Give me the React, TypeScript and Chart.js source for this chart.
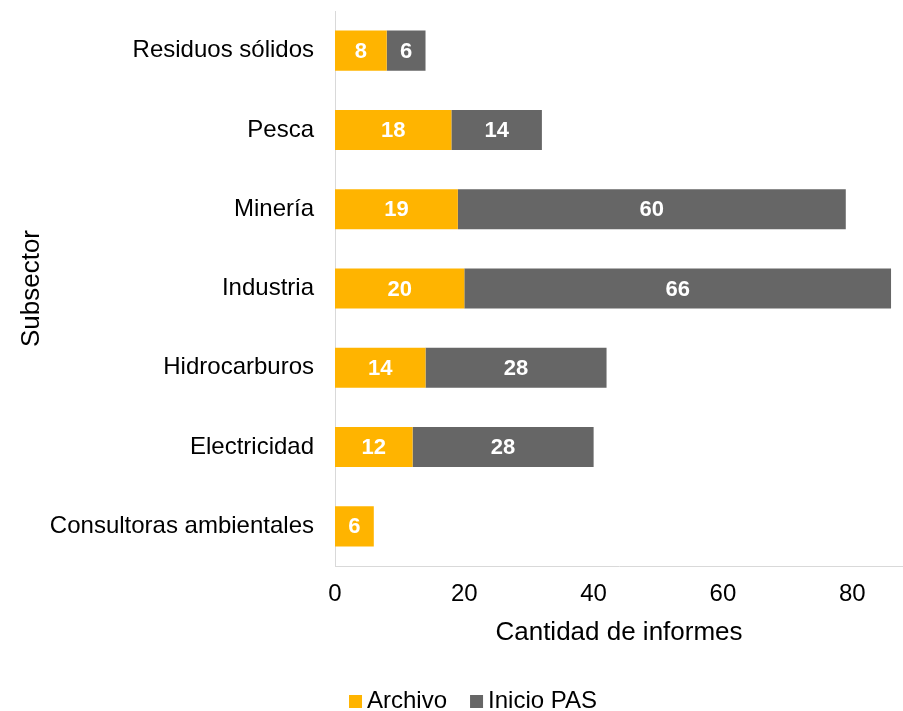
import React, { useEffect, useRef } from "react";
import { Chart, registerables } from "chart.js";

Chart.register(...registerables);

const categories = [
  "Residuos sólidos",
  "Pesca",
  "Minería",
  "Industria",
  "Hidrocarburos",
  "Electricidad",
  "Consultoras ambientales",
];
const archivo = [8, 18, 19, 20, 14, 12, 6];
const inicioPAS: (number | null)[] = [6, 14, 60, 66, 28, 28, null];
const xTickValues = [0, 20, 40, 60, 80];
const seriesNames = ["Archivo", "Inicio PAS"];
const seriesColors = ["#FFB400", "#666666"];
const xAxisTitle = "Cantidad de informes";
const yAxisTitle = "Subsector";

const FONT = '"Liberation Sans", Arial, sans-serif';

const valueLabels = {
  id: "valueLabels",
  afterDatasetsDraw(chart: any) {
    const ctx = chart.ctx;
    ctx.save();
    ctx.font = `bold 22px ${FONT}`;
    ctx.fillStyle = "#ffffff";
    ctx.textAlign = "center";
    ctx.textBaseline = "middle";
    chart.data.datasets.forEach((ds: any, i: number) => {
      const meta = chart.getDatasetMeta(i);
      meta.data.forEach((bar: any, j: number) => {
        const v = ds.data[j];
        if (v == null || v === 0) return;
        const p = bar.getProps(["x", "y", "base"], true);
        ctx.fillText(String(v), (p.x + p.base) / 2, p.y + 1);
      });
    });
    ctx.restore();
  },
};

const customLegend = {
  id: "customLegend",
  afterDraw(chart: any, _args: any, opts: any) {
    const ctx = chart.ctx;
    ctx.save();
    ctx.font = `24px ${FONT}`;
    const box = 13;
    const gap = 5;
    const itemGap = 23;
    const items = chart.data.datasets.map((ds: any) => ({
      text: ds.label,
      color: ds.backgroundColor,
    }));
    const widths = items.map(
      (it: any) => box + gap + ctx.measureText(it.text).width
    );
    const total =
      widths.reduce((a: number, b: number) => a + b, 0) +
      itemGap * (items.length - 1);
    let x = opts.centerX - total / 2;
    const cy = opts.centerY;
    items.forEach((it: any, i: number) => {
      ctx.fillStyle = it.color;
      ctx.fillRect(x, cy - box / 2, box, box);
      ctx.fillStyle = "#000000";
      ctx.textBaseline = "middle";
      ctx.textAlign = "left";
      ctx.fillText(it.text, x + box + gap, cy);
      x += widths[i] + itemGap;
    });
    ctx.restore();
  },
};

export default function App() {
  const canvasRef = useRef<HTMLCanvasElement | null>(null);

  useEffect(() => {
    if (!canvasRef.current) return;
    Chart.defaults.font.family = FONT;
    const chart = new Chart(canvasRef.current, {
      type: "bar",
      data: {
        labels: categories,
        datasets: [
          {
            label: seriesNames[0],
            data: archivo,
            backgroundColor: seriesColors[0],
            barPercentage: 0.505,
            categoryPercentage: 1,
          },
          {
            label: seriesNames[1],
            data: inicioPAS,
            backgroundColor: seriesColors[1],
            barPercentage: 0.505,
            categoryPercentage: 1,
          },
        ],
      },
      options: {
        indexAxis: "y",
        responsive: false,
        animation: false,
        layout: { padding: { left: 0, right: 0, top: 11, bottom: 45 } },
        plugins: {
          legend: { display: false },
          tooltip: { enabled: false },
          customLegend: { centerX: 473, centerY: 701.5 },
        } as any,
        scales: {
          x: {
            stacked: true,
            min: 0,
            max: 87.85,
            afterBuildTicks: (s: any) => {
              s.ticks = xTickValues.map((v) => ({ value: v }));
            },
            afterFit: (s: any) => {
              s.height = 100;
              s.paddingLeft = 0;
              s.paddingRight = 0;
            },
            grid: { display: false, drawTicks: false },
            border: { display: true, color: "#D9D9D9", width: 1 },
            ticks: {
              font: { size: 24, family: FONT },
              color: "#000000",
              padding: 14,
              maxRotation: 0,
            },
            title: {
              display: true,
              text: xAxisTitle,
              font: { size: 26, family: FONT },
              color: "#000000",
              padding: { top: 0, bottom: 18 },
            },
          },
          y: {
            stacked: true,
            afterFit: (s: any) => {
              s.width = 335;
              s.paddingTop = 0;
              s.paddingBottom = 0;
            },
            grid: { display: false, drawTicks: false },
            border: { display: true, color: "#D9D9D9", width: 1 },
            ticks: {
              font: { size: 24, family: FONT },
              color: "#000000",
              padding: 21,
              autoSkip: false,
            },
            title: {
              display: true,
              text: yAxisTitle,
              font: { size: 26, family: FONT },
              color: "#000000",
              padding: { top: 16, bottom: 0 },
            },
          },
        },
      } as any,
      plugins: [valueLabels, customLegend],
    });
    return () => chart.destroy();
  }, []);

  return (
    <div
      style={{
        position: "fixed",
        left: 0,
        top: 0,
        width: 903,
        height: 711,
        background: "#ffffff",
      }}
    >
      <canvas ref={canvasRef} width={903} height={711} />
    </div>
  );
}
